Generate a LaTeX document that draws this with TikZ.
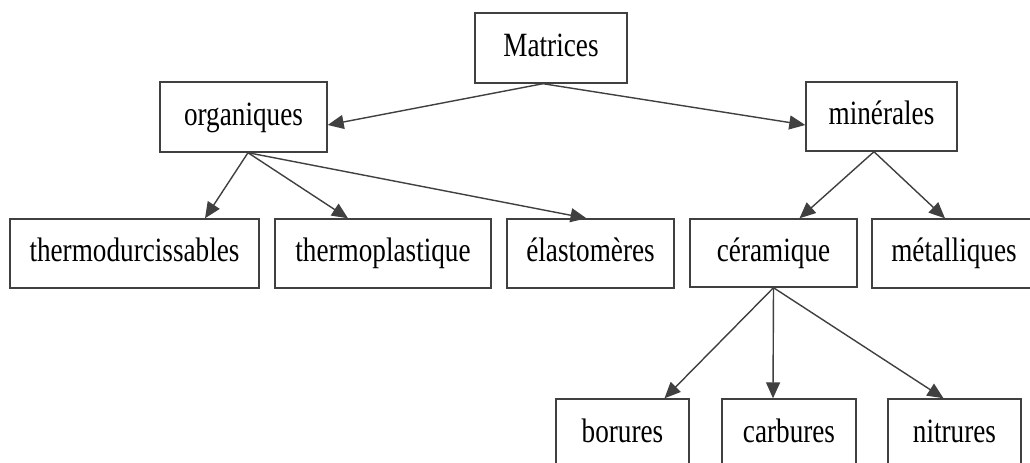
\documentclass[tikz,border=0pt]{standalone}
\usepackage{fontspec}
\setmainfont{Liberation Serif}[FakeStretch=0.8]
\usepackage{tikz}
\usetikzlibrary{arrows.meta,calc}

\tikzset{
  box/.style={draw=black!75, line width=0.7pt, fill=white, inner sep=0pt,
    minimum height=34.5pt, text height=12pt, text depth=4pt,
    font=\fontsize{17}{19}\selectfont},
  link/.style={draw=black!75, line width=0.7pt,
    -{Triangle[length=8pt,width=7pt]}}
}

\begin{document}
\begin{tikzpicture}[x=0.5pt,y=-0.5pt]
  \useasboundingbox (0,0) rectangle (1030,462);
  \clip (0,0) rectangle (1030,462);
  \fill[white] (0,0) rectangle (1030,462);
  % top level
  \node[box,minimum width=76pt,minimum height=35pt] (mat) at (551,48) {Matrices};
  \node[box,minimum width=83.5pt,minimum height=35pt] (org) at (243.5,117) {organiques};
  \node[box,minimum width=75.5pt] (min) at (881.5,116.5) {minérales};
  % second row
  \node[box,minimum width=124.5pt] (thd) at (134.5,253.5) {thermodurcissables};
  \node[box,minimum width=108pt] (thp) at (383,253.5) {thermoplastique};
  \node[box,minimum width=83.5pt] (ela) at (590.5,253.5) {élastomères};
  \node[box,minimum width=83.5pt,minimum height=34pt] (cer) at (773.5,253) {céramique};
  \node[box,minimum width=82pt] (met) at (954,253.5) {métalliques};
  % third row
  \node[box,minimum width=66.5pt,minimum height=35pt] (bor) at (622.5,434) {borures};
  \node[box,minimum width=67pt,minimum height=35pt] (car) at (789,434) {carbures};
  \node[box,minimum width=66.5pt,minimum height=35pt] (nit) at (954.5,434) {nitrures};

  \coordinate (matfoot) at ($(mat.south)+(-8,0)$);
  \coordinate (orgfoot) at ($(org.south)+(4.5,0)$);
  \coordinate (minfoot) at ($(min.south)+(-7.5,0)$);
  \coordinate (cerfoot) at (cer.south);

  \draw[link] (matfoot) -- ($(org.east)+(0,8)$);
  \draw[link] (matfoot) -- ($(min.west)+(0,8.5)$);
  \draw[link] (orgfoot) -- ($(thd.north)+(70.5,0)$);
  \draw[link] (orgfoot) -- ($(thp.north)+(-35,0)$);
  \draw[link] (orgfoot) -- ($(ela.north)+(-4,0)$);
  \draw[link] (minfoot) -- ($(cer.north)+(26,0)$);
  \draw[link] (minfoot) -- ($(met.north)+(-9,0)$);
  \draw[link] (cerfoot) -- ($(bor.north)+(42,0)$);
  \draw[link] (cerfoot) -- ($(car.north)+(-16,0)$);
  \draw[link] (cerfoot) -- ($(nit.north)+(-11,0)$);
\end{tikzpicture}
\end{document}
